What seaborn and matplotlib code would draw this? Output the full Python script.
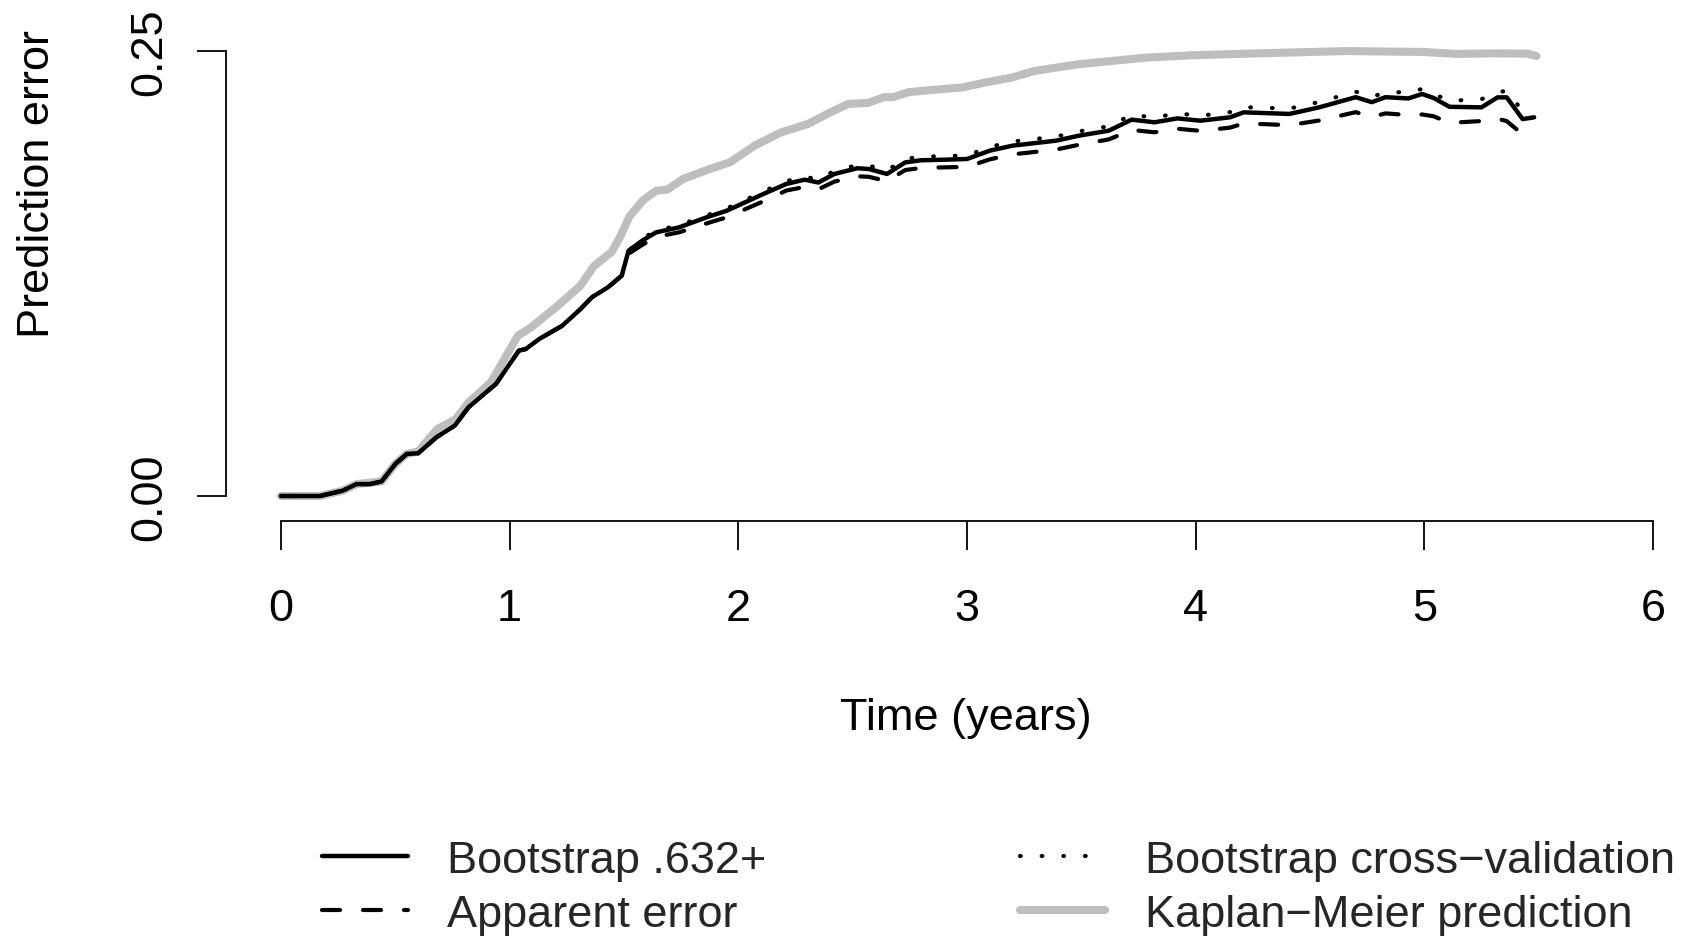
import numpy as np
import pandas as pd
import matplotlib
matplotlib.use("Agg")
import matplotlib.pyplot as plt
import seaborn as sns

# ---------------- data ----------------
time_boot = [0, 0.17, 0.27, 0.33, 0.39, 0.44, 0.50, 0.55, 0.60, 0.68, 0.76,
             0.82, 0.94, 1.04, 1.07, 1.13, 1.23, 1.31, 1.36, 1.43, 1.49,
             1.52, 1.58, 1.64, 1.74, 1.86, 1.95, 2.03, 2.11, 2.21, 2.29,
             2.35, 2.42, 2.52, 2.57, 2.65, 2.73, 2.80, 2.90, 3.00, 3.10,
             3.20, 3.39, 3.49, 3.62, 3.72, 3.82, 3.92, 4.02, 4.15, 4.21,
             4.41, 4.54, 4.70, 4.77, 4.83, 4.93, 4.99, 5.04, 5.11, 5.25,
             5.32, 5.36, 5.43, 5.48]

boot632 = [0, 0, 0.003, 0.0067, 0.0067, 0.0082, 0.018, 0.0236, 0.024, 0.033, 0.0395,
           0.0498, 0.0629, 0.0816, 0.0825, 0.0882, 0.0956, 0.105, 0.1116, 0.1172, 0.1237,
           0.1377, 0.1434, 0.148, 0.1508, 0.1564, 0.1602, 0.1649, 0.1696, 0.1752, 0.1776,
           0.176, 0.1808, 0.184, 0.1836, 0.1808, 0.1873, 0.1885, 0.1888, 0.1892, 0.1939,
           0.1967, 0.1995, 0.2023, 0.2051, 0.2113, 0.2098, 0.212, 0.2107, 0.2126, 0.2154,
           0.2145, 0.2182, 0.2239, 0.2211, 0.2239, 0.2232, 0.2257, 0.2235, 0.2185, 0.2182,
           0.2238, 0.2238, 0.2116, 0.2126]

boot_cv = [0, 0, 0.003, 0.0067, 0.0067, 0.0082, 0.018, 0.0236, 0.024, 0.033, 0.0395,
           0.0498, 0.0629, 0.0816, 0.0825, 0.0882, 0.0956, 0.105, 0.1116, 0.1172, 0.1237,
           0.1377, 0.1445, 0.149, 0.152, 0.1575, 0.1615, 0.1662, 0.171, 0.1768, 0.1792,
           0.1778, 0.1825, 0.1858, 0.1855, 0.1828, 0.1893, 0.1905, 0.1908, 0.1912, 0.196,
           0.199, 0.2018, 0.2047, 0.2076, 0.214, 0.2125, 0.2148, 0.2135, 0.2155, 0.2183,
           0.2175, 0.2212, 0.227, 0.2242, 0.2265, 0.2268, 0.2285, 0.2258, 0.2218, 0.2228,
           0.2265, 0.2276, 0.216, 0.2135]

apparent = [0, 0, 0.003, 0.0067, 0.0067, 0.0082, 0.018, 0.0236, 0.024, 0.033, 0.0395,
            0.0498, 0.0629, 0.0816, 0.0825, 0.0882, 0.0956, 0.105, 0.1116, 0.1172, 0.1237,
            0.136, 0.141, 0.1455, 0.148, 0.153, 0.1565, 0.161, 0.1655, 0.1715, 0.1735,
            0.1722, 0.1765, 0.1795, 0.1792, 0.1768, 0.183, 0.1842, 0.1845, 0.1848, 0.189,
            0.1918, 0.1945, 0.1972, 0.2002, 0.2055, 0.2042, 0.2062, 0.205, 0.2068, 0.2092,
            0.2082, 0.2108, 0.2155, 0.2128, 0.2148, 0.2139, 0.2142, 0.2132, 0.2095, 0.2105,
            0.2118, 0.2105, 0.2030, 0.2040]

time_km = [0, 0.17, 0.27, 0.33, 0.44, 0.50, 0.55, 0.60, 0.684, 0.763, 0.821,
           0.918, 1.036, 1.094, 1.211, 1.309, 1.368, 1.446, 1.485, 1.524, 1.583,
           1.641, 1.69, 1.758, 1.875, 1.963, 2.071, 2.188, 2.305, 2.403, 2.48,
           2.568, 2.637, 2.676, 2.744, 2.851, 2.98, 3.078, 3.195, 3.293, 3.488,
           3.781, 3.976, 4.269, 4.659, 4.854, 4.994, 5.14, 5.30, 5.45, 5.49]

km = [0, 0, 0.003, 0.0067, 0.0082, 0.018, 0.0236, 0.025, 0.0376, 0.043, 0.0526,
      0.0638, 0.090, 0.0947, 0.1069, 0.118, 0.129, 0.137, 0.146, 0.157, 0.166,
      0.1714, 0.172, 0.178, 0.1836, 0.1873, 0.1967, 0.2042, 0.2089, 0.2154, 0.2201,
      0.2207, 0.2239, 0.2239, 0.2267, 0.228, 0.2294, 0.2321, 0.2349, 0.2386, 0.2424,
      0.2461, 0.2474, 0.2485, 0.2498, 0.2495, 0.2493, 0.2482, 0.2485, 0.2484, 0.2470]

legend_labels = ["Bootstrap .632+", "Apparent error",
                 "Bootstrap cross\u2212validation", "Kaplan\u2212Meier prediction"]
x_ticks = [0, 1, 2, 3, 4, 5, 6]
y_ticks = [0.0, 0.25]
y_ticklabels = ["0.00", "0.25"]

# ---------------- style ----------------
sns.set_theme(style="white")
plt.rcParams["font.family"] = ["Liberation Sans", "DejaVu Sans"]
plt.rcParams["lines.scale_dashes"] = False

W, H = 1694, 937
fig = plt.figure(figsize=(W / 100, H / 100), dpi=100)
ax_left, ax_right, ax_top, ax_bot = 226, 1694, 20, 522
ax = fig.add_axes([ax_left / W, 1 - ax_bot / H, (ax_right - ax_left) / W, (ax_bot - ax_top) / H])

FS = 32.5
km_df = pd.DataFrame({"time": time_km, "err": km})
boot_df = pd.DataFrame({"time": time_boot, "b632": boot632, "cv": boot_cv, "app": apparent})

sns.lineplot(data=km_df, x="time", y="err", ax=ax, color="#BEBEBE", linewidth=5.8,
             solid_capstyle="round", errorbar=None, sort=False)
h_km = ax.lines[-1]
sns.lineplot(data=boot_df, x="time", y="cv", ax=ax, color="black", linewidth=3.0,
             linestyle=(0, (0.5, 15.1)), dash_capstyle="round", errorbar=None, sort=False)
h_cv = ax.lines[-1]
sns.lineplot(data=boot_df, x="time", y="app", ax=ax, color="black", linewidth=3.0,
             linestyle=(0, (13, 16.5)), dash_capstyle="round", errorbar=None, sort=False)
h_app = ax.lines[-1]
sns.lineplot(data=boot_df, x="time", y="b632", ax=ax, color="black", linewidth=3.2,
             solid_capstyle="round", errorbar=None, sort=False)
h_b632 = ax.lines[-1]

# scales
px_per_year = 228.67
px_per_unit = (497 - 51.7) / 0.25
ax.set_xlim(-(281 - ax_left) / px_per_year, (ax_right - 281) / px_per_year)
ax.set_ylim(-(ax_bot - 497) / px_per_unit, 0.25 + (51.7 - ax_top) / px_per_unit)

# axes styling (R base-graphics look)
for s in ["top", "right"]:
    ax.spines[s].set_visible(False)
for s in ["left", "bottom"]:
    ax.spines[s].set_color("black")
    ax.spines[s].set_linewidth(1.3)
ax.spines["left"].set_bounds(0, 0.25)
ax.spines["bottom"].set_bounds(0, 6)

ax.set_xticks(x_ticks)
ax.set_xticklabels([str(v) for v in x_ticks])
ax.set_yticks(y_ticks)
ax.set_yticklabels(y_ticklabels, rotation=90, va="center")
ax.tick_params(axis="both", direction="out", length=20.9, width=1.3, color="black",
               labelsize=FS, labelcolor="black", left=True, bottom=True)
ax.tick_params(axis="x", pad=27)
ax.tick_params(axis="y", pad=19)
ax.grid(False)

ax.set_xlabel("Time (years)", fontsize=FS, color="black")
ax.xaxis.set_label_coords((966 - ax_left) / (ax_right - ax_left), -(698 - ax_bot) / (ax_bot - ax_top))
ax.set_ylabel("")
fig.text(38 / W, 1 - 184 / H, "Prediction error", rotation=90, ha="center", va="center",
         fontsize=FS, color="black")

fig.legend([h_b632, h_app, h_cv, h_km], legend_labels, loc="upper left",
           bbox_to_anchor=(322 / W, 1 - 841 / H), ncol=2, frameon=False,
           borderpad=0, borderaxespad=0, handlelength=1.9, handletextpad=0.88,
           columnspacing=5.6, labelspacing=0.28, fontsize=FS)

fig.savefig("out.png", dpi=100, facecolor="white")
